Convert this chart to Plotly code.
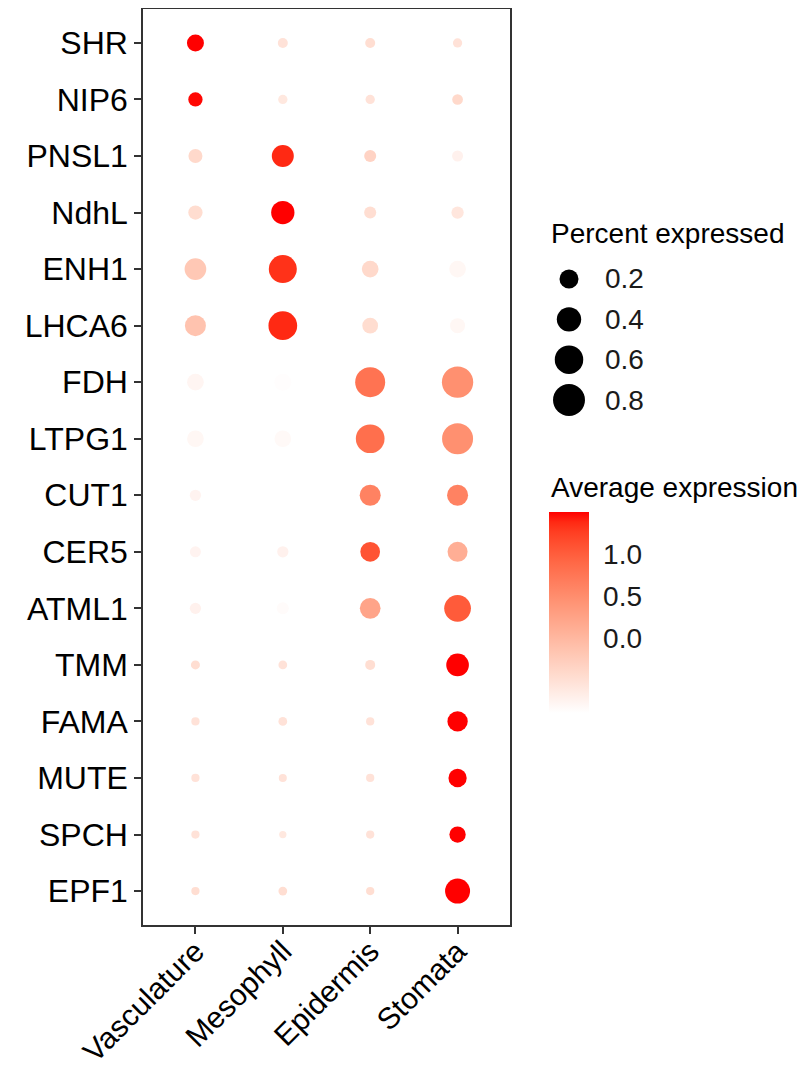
import numpy as np
import plotly.graph_objects as go

# ---------------- data ----------------
cell_types = ["Vasculature", "Mesophyll", "Epidermis", "Stomata"]
genes = ["SHR", "NIP6", "PNSL1", "NdhL", "ENH1", "LHCA6", "FDH", "LTPG1",
         "CUT1", "CER5", "ATML1", "TMM", "FAMA", "MUTE", "SPCH", "EPF1"]

# fraction of cells expressing (rows = genes, cols = cell types)
pct_shr = [0.144, 0.019, 0.019, 0.013]
pct_nip6 = [0.082, 0.013, 0.013, 0.026]
pct_pnsl1 = [0.076, 0.304, 0.043, 0.030]
pct_ndhl = [0.082, 0.356, 0.043, 0.047]
pct_enh1 = [0.293, 0.575, 0.136, 0.136]
pct_lhca6 = [0.268, 0.613, 0.112, 0.096]
pct_fdh = [0.136, 0.144, 0.685, 0.761]
pct_ltpg1 = [0.136, 0.136, 0.613, 0.743]
pct_cut1 = [0.033, 0.030, 0.268, 0.268]
pct_cer5 = [0.030, 0.033, 0.223, 0.233]
pct_atml1 = [0.033, 0.043, 0.257, 0.510]
pct_tmm = [0.011, 0.009, 0.019, 0.330]
pct_fama = [0.006, 0.009, 0.006, 0.243]
pct_mute = [0.006, 0.005, 0.006, 0.180]
pct_spch = [0.006, 0.002, 0.006, 0.126]
pct_epf1 = [0.006, 0.009, 0.006, 0.430]

# scaled average expression
avg_shr = [1.50, -0.53, -0.48, -0.53]
avg_nip6 = [1.48, -0.60, -0.53, -0.41]
avg_pnsl1 = [-0.41, 1.38, -0.34, -0.72]
avg_ndhl = [-0.46, 1.50, -0.48, -0.58]
avg_enh1 = [-0.20, 1.33, -0.41, -0.79]
avg_lhca6 = [-0.14, 1.38, -0.46, -0.79]
avg_fdh = [-0.77, -0.87, 0.78, 0.47]
avg_ltpg1 = [-0.79, -0.82, 0.83, 0.47]
avg_cut1 = [-0.75, -0.89, 0.62, 0.62]
avg_cer5 = [-0.75, -0.72, 1.09, 0.11]
avg_atml1 = [-0.72, -0.84, 0.23, 1.02]
avg_tmm = [-0.48, -0.53, -0.48, 1.50]
avg_fama = [-0.53, -0.53, -0.53, 1.50]
avg_mute = [-0.53, -0.53, -0.53, 1.50]
avg_spch = [-0.53, -0.60, -0.53, 1.50]
avg_epf1 = [-0.48, -0.48, -0.48, 1.50]

pct_rows = [pct_shr, pct_nip6, pct_pnsl1, pct_ndhl, pct_enh1, pct_lhca6, pct_fdh,
            pct_ltpg1, pct_cut1, pct_cer5, pct_atml1, pct_tmm, pct_fama, pct_mute,
            pct_spch, pct_epf1]
avg_rows = [avg_shr, avg_nip6, avg_pnsl1, avg_ndhl, avg_enh1, avg_lhca6, avg_fdh,
            avg_ltpg1, avg_cut1, avg_cer5, avg_atml1, avg_tmm, avg_fama, avg_mute,
            avg_spch, avg_epf1]

size_breaks = [0.2, 0.4, 0.6, 0.8]
color_ticks = [0.0, 0.5, 1.0]
color_ticktext = ["0.0", "0.5", "1.0"]
cmin, cmax = -0.89, 1.5

# the page body has an 8px margin, so the figure is 8px smaller and offset
OFF = 8
W, H = 811 - OFF, 1069 - OFF
FONT = "Liberation Sans, Arial, Helvetica, sans-serif"


def px(x):
    return (x - OFF) / W


def py(y):
    return 1 - (y - OFF) / H


def dot_size(p):
    return 6.0 + 29.0 * np.sqrt(np.asarray(p, dtype=float))


# ---- Lab interpolation white -> red (like ggplot gradient) ----
def srgb_to_lin(c):
    c = c / 255.0
    return np.where(c <= 0.04045, c / 12.92, ((c + 0.055) / 1.055) ** 2.4)


def lin_to_srgb(c):
    c = np.clip(c, 0, 1)
    return np.where(c <= 0.0031308, 12.92 * c, 1.055 * c ** (1 / 2.4) - 0.055) * 255


M = np.array([[0.4124, 0.3576, 0.1805], [0.2126, 0.7152, 0.0722], [0.0193, 0.1192, 0.9505]])
Minv = np.linalg.inv(M)
WP = np.array([0.95047, 1.0, 1.08883])


def f(t):
    d = 6 / 29
    return np.where(t > d ** 3, np.cbrt(t), t / (3 * d * d) + 4 / 29)


def finv(t):
    d = 6 / 29
    return np.where(t > d, t ** 3, 3 * d * d * (t - 4 / 29))


def rgb_to_lab(rgb):
    xyz = M @ srgb_to_lin(np.array(rgb, float)) / WP
    fx, fy, fz = f(xyz)
    return np.array([116 * fy - 16, 500 * (fx - fy), 200 * (fy - fz)])


def lab_to_rgb(lab):
    L, a, b = lab
    fy = (L + 16) / 116
    fx = fy + a / 500
    fz = fy - b / 200
    xyz = finv(np.array([fx, fy, fz])) * WP
    return lin_to_srgb(Minv @ xyz)


lab_lo = rgb_to_lab([255, 255, 255])
lab_hi = rgb_to_lab([255, 0, 0])
colorscale = []
for s in np.linspace(0, 1, 21):
    r, g, b = lab_to_rgb(lab_lo + (lab_hi - lab_lo) * s)
    colorscale.append([float(s), "rgb(%d,%d,%d)" % (round(r), round(g), round(b))])

xs, ys, ps, cs = [], [], [], []
for gi, g in enumerate(genes):
    for ci, ct in enumerate(cell_types):
        xs.append(ct)
        ys.append(g)
        ps.append(pct_rows[gi][ci])
        cs.append(avg_rows[gi][ci])

# main plot area in screen pixels
L_, R_, T_, B_ = 143, 510, 9, 925

fig = go.Figure()
fig.add_trace(go.Scatter(
    x=xs, y=ys, mode="markers",
    marker=dict(size=dot_size(ps), sizemode="diameter", color=cs, cmin=cmin, cmax=cmax,
                colorscale=colorscale, line=dict(width=0), opacity=1,
                colorbar=dict(
                    x=px(549), xanchor="left", xpad=0,
                    y=py(512), yanchor="top", ypad=0,
                    thickness=40, thicknessmode="pixels",
                    len=201, lenmode="pixels",
                    outlinewidth=0,
                    tickvals=color_ticks, ticktext=color_ticktext,
                    ticks="outside", ticklen=9, tickcolor="rgba(255,255,255,0)", tickwidth=1,
                    tickfont=dict(family=FONT, size=28, color="#1a1a1a"),
                )),
    showlegend=False, hoverinfo="skip"))

# size legend
fig.add_trace(go.Scatter(
    x=[0] * len(size_breaks), y=size_breaks, mode="markers",
    marker=dict(size=dot_size(size_breaks), sizemode="diameter", color="#000000",
                opacity=1, line=dict(width=0)),
    xaxis="x2", yaxis="y2", showlegend=False, hoverinfo="skip"))

for b in size_breaks:
    fig.add_annotation(x=34, y=b, xref="x2", yref="y2", text="%.1f" % b, showarrow=False,
                       xanchor="left", yanchor="middle",
                       font=dict(family=FONT, size=28, color="#1a1a1a"))

fig.add_annotation(x=px(549), y=py(233), xref="paper", yref="paper", text="Percent expressed",
                   showarrow=False, xanchor="left", yanchor="middle",
                   font=dict(family=FONT, size=28, color="black"))
fig.add_annotation(x=px(549), y=py(487), xref="paper", yref="paper", text="Average expression",
                   showarrow=False, xanchor="left", yanchor="middle",
                   font=dict(family=FONT, size=28, color="black"))

axis_line = dict(showline=True, linecolor="#333333", linewidth=1.5, mirror=True,
                 showgrid=False, zeroline=False, ticks="outside", ticklen=7,
                 tickcolor="#333333", tickwidth=1.5, automargin=False)

fig.update_layout(
    template="none",
    width=W, height=H,
    margin=dict(l=0, r=0, t=0, b=0, autoexpand=False),
    paper_bgcolor="white", plot_bgcolor="white",
    font=dict(family=FONT, color="black"),
    xaxis=dict(domain=[px(L_), px(R_)], type="category", categoryorder="array",
               categoryarray=cell_types, range=[-0.6, len(cell_types) - 0.4],
               tickangle=-45, ticklabelstandoff=-12,
               tickfont=dict(family=FONT, size=30, color="black"), **axis_line),
    yaxis=dict(domain=[py(B_), py(T_)], type="category", categoryorder="array",
               categoryarray=genes, range=[len(genes) - 0.4, -0.6],
               tickfont=dict(family=FONT, size=32, color="black"), **axis_line),
    xaxis2=dict(domain=[px(549), 1.0], range=[-20, 242], visible=False, fixedrange=True),
    yaxis2=dict(domain=[py(420), py(260)], range=[0.899, 0.106], visible=False, fixedrange=True),
)

fig.write_html("out.html")
